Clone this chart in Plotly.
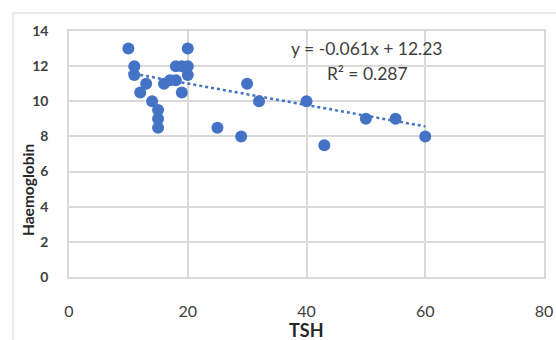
import plotly.graph_objects as go

tsh = [10, 11, 11, 12, 13, 14, 15, 15, 15, 16, 17, 18, 18, 19, 19, 20, 20, 20,
       25, 29, 30, 32, 40, 43, 50, 55, 60]
hb = [13, 12, 11.5, 10.5, 11, 10, 9.5, 9, 8.5, 11, 11.2, 11.2, 12, 12, 10.5, 13, 12, 11.5,
      8.5, 8, 11, 10, 10, 7.5, 9, 9, 8]
slope = -0.061
intercept = 12.23
r2 = 0.287
x_ticks = [0, 20, 40, 60, 80]
y_ticks = [0, 2, 4, 6, 8, 10, 12, 14]

blue = "#4472C4"
grid = "#D9D9D9"
txt = "#404040"
font = "Lato"

trend_x = [min(tsh), max(tsh)]
trend_y = [slope * v + intercept for v in trend_x]

fig = go.Figure()
fig.add_trace(go.Scatter(x=trend_x, y=trend_y, mode="lines",
                         line=dict(color=blue, width=2.5, dash="dot"),
                         hoverinfo="skip", showlegend=False))
fig.add_trace(go.Scatter(x=tsh, y=hb, mode="markers",
                         marker=dict(color=blue, size=12),
                         showlegend=False))

W, H = 556, 340
L, R, T, B = 69, 12, 31, 63
pw, ph = W - L - R, H - T - B

def px_x(p):
    return (p - L) / pw

def px_y(p):
    return (H - B - p) / ph

def note(text, x, y, size, color, angle=0):
    return dict(text=text, x=px_x(x), y=px_y(y), xref="paper", yref="paper",
                xanchor="center", yanchor="middle", textangle=angle, showarrow=False,
                font=dict(size=size, color=color, family=font))

fig.update_layout(
    width=W, height=H,
    margin=dict(l=L, r=R, t=T, b=B, autoexpand=False),
    paper_bgcolor="white", plot_bgcolor="white",
    font=dict(family=font, color=txt),
    xaxis=dict(range=[0, 80], tickvals=x_ticks, showgrid=True, gridcolor=grid, gridwidth=1.5,
               showline=True, linecolor=grid, linewidth=1.5, mirror=True, zeroline=False,
               automargin=False,
               tickfont=dict(size=16, color=txt, family=font), ticklabelstandoff=19),
    yaxis=dict(range=[0, 14], tickvals=y_ticks, showgrid=True, gridcolor=grid, gridwidth=1.5,
               showline=True, linecolor=grid, linewidth=1.5, mirror=True, zeroline=False,
               automargin=False,
               tickfont=dict(size=14, color=txt, family=font, weight="bold"), ticklabelstandoff=16),
    shapes=[dict(type="rect", xref="paper", yref="paper",
                 x0=px_x(13), x1=px_x(W + 5), y0=px_y(H + 5), y1=px_y(13),
                 line=dict(color=grid, width=1), layer="below")],
    annotations=[
        note("y = -0.061x + 12.23", 367, 49, 17.5, txt),
        note("R² = 0.287", 367, 73, 17.5, txt),
        note("<b>Haemoglobin</b>", 28, 190, 15.5, "#262626", -90),
        note("<b>TSH</b>", 306.5, 330, 18, "#262626"),
    ],
)

fig.write_html("out.html", config={"displayModeBar": False},
               post_script="document.body.style.margin='0';document.body.style.overflow='hidden';")
